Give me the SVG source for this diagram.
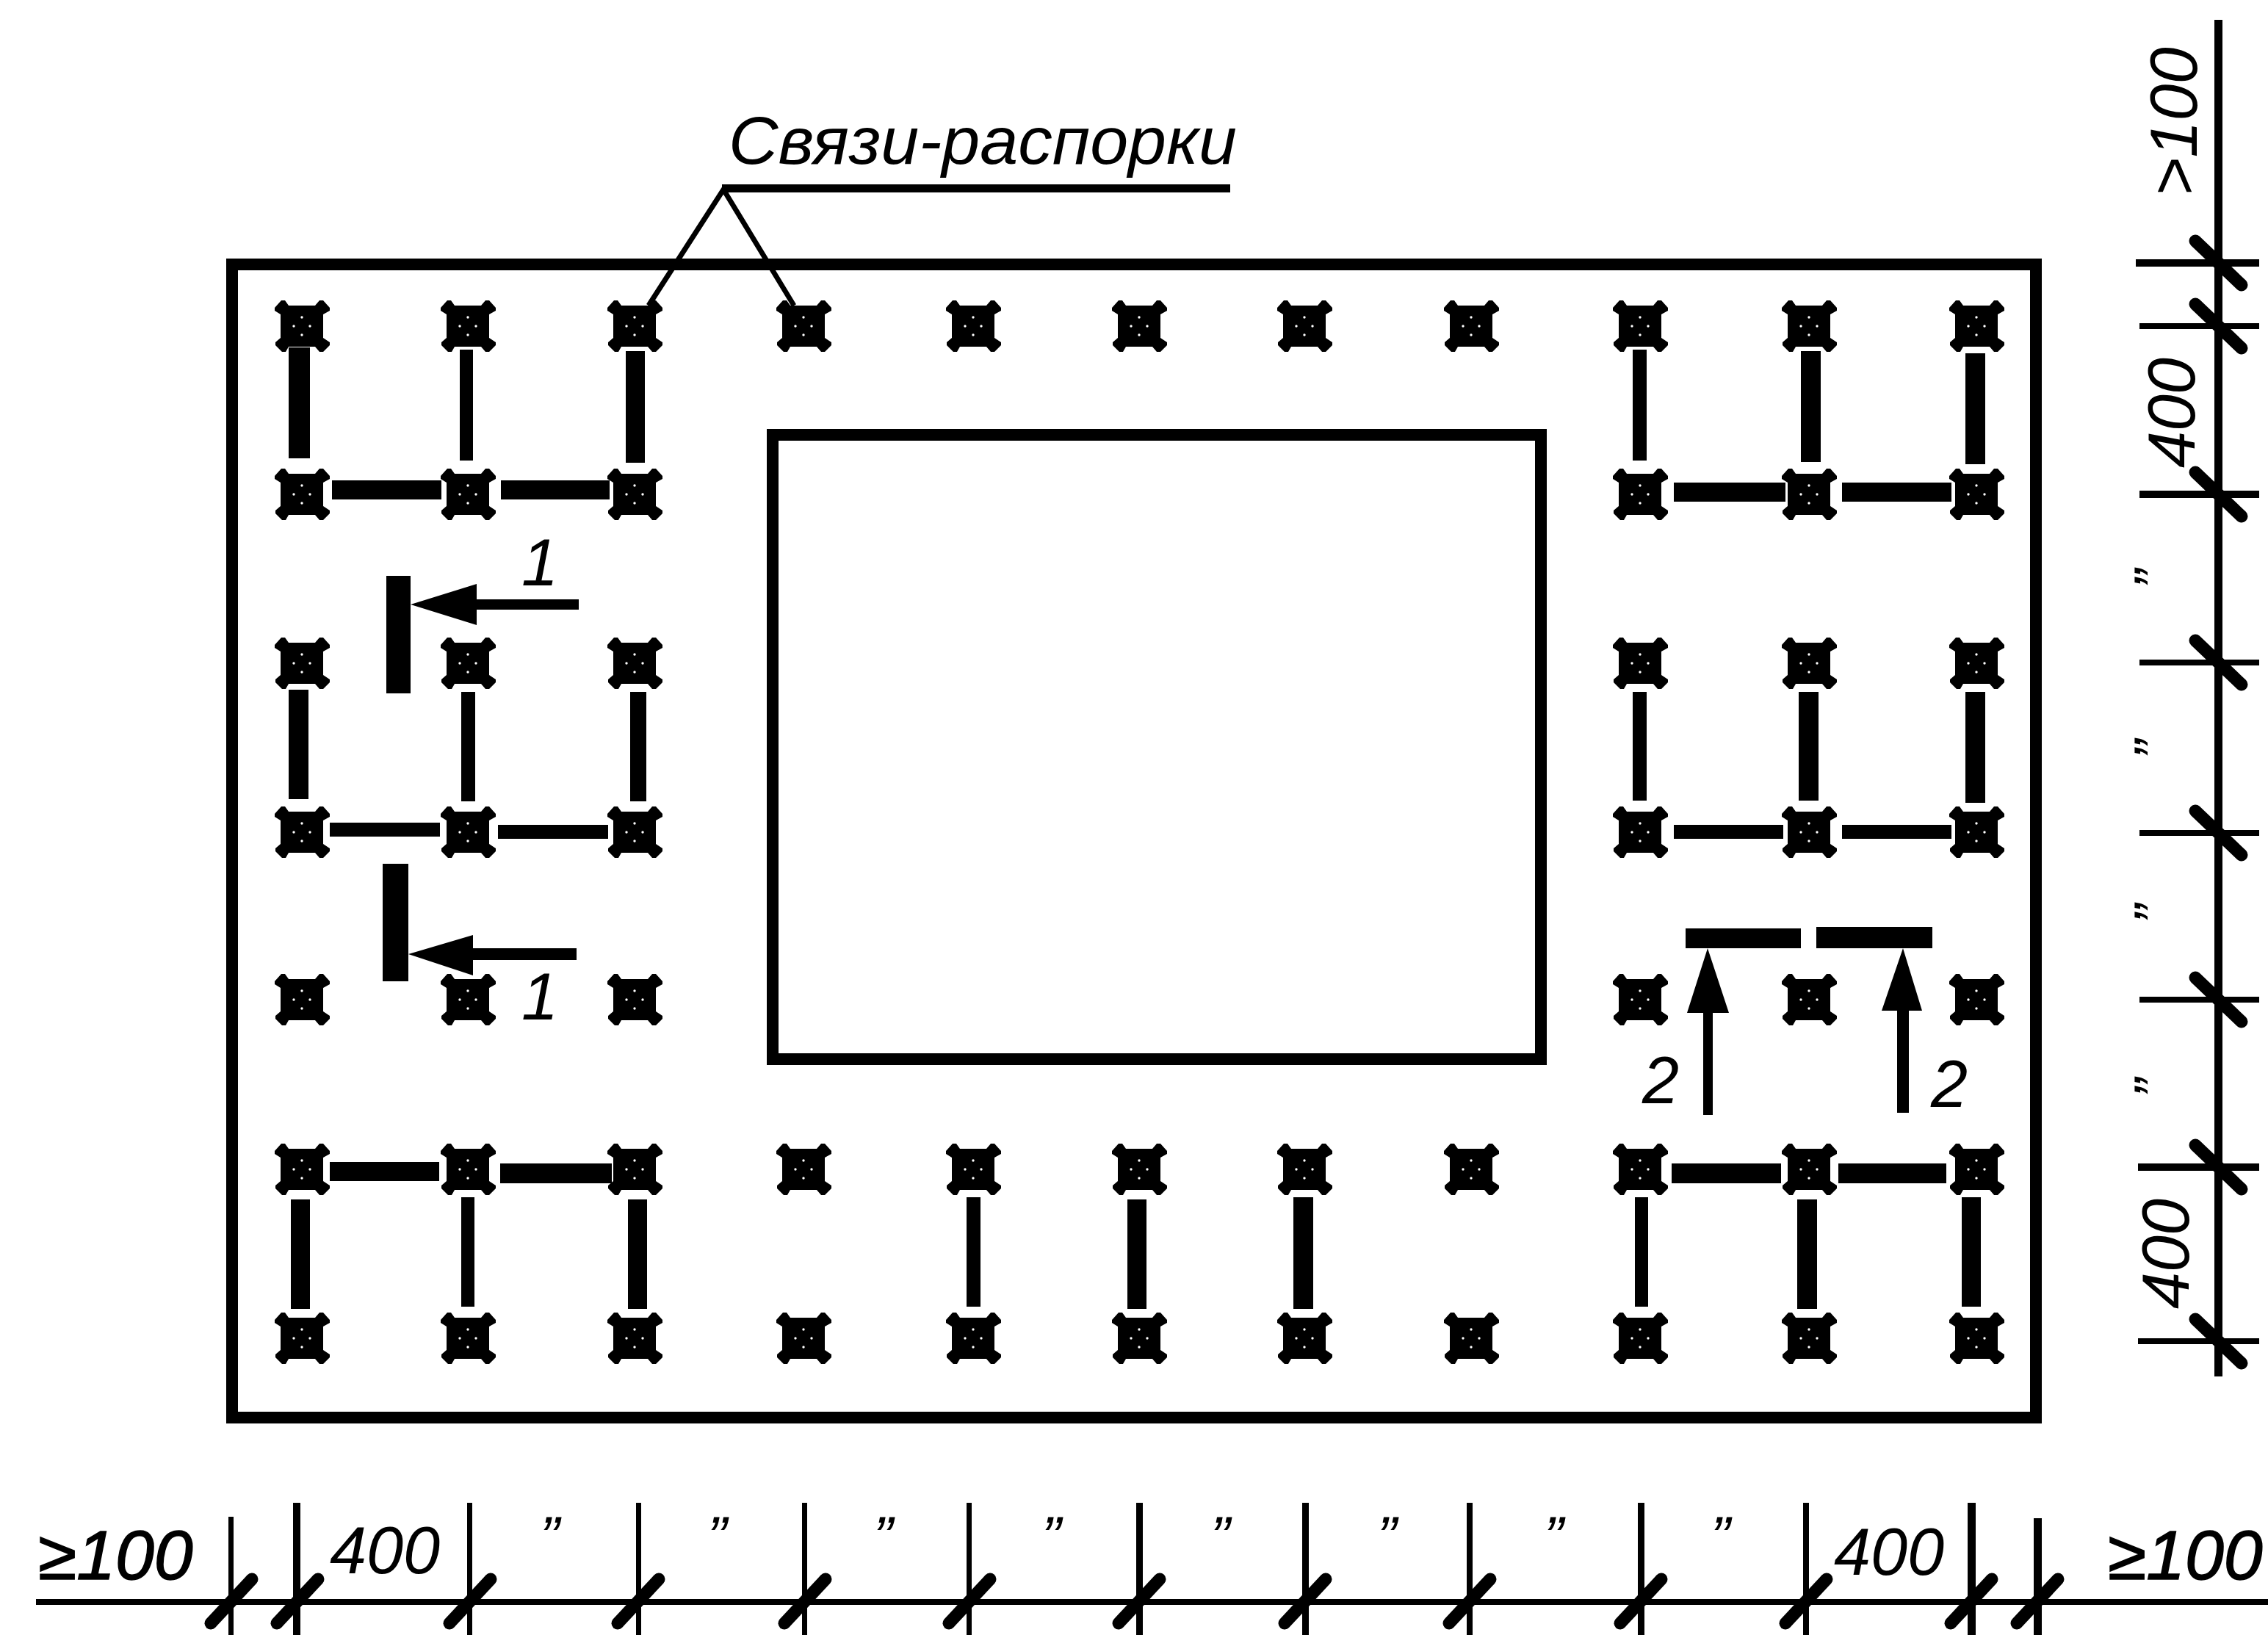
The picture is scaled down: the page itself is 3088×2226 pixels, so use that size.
<svg xmlns="http://www.w3.org/2000/svg" width="3088" height="2226" viewBox="0 0 3088 2226">
<style>
text{font-family:"Liberation Sans",Arial,sans-serif;font-style:italic;font-size:90px;fill:#000}
.frame{fill:none;stroke:#000;stroke-width:16}
.slash{stroke:#000;stroke-width:17;stroke-linecap:round;fill:none}
.heavy{stroke:#000;stroke-width:1.5}
.q{font-size:80px}
</style>
<defs>
<g id="col">
<path d="M-18,-28H18L24,-35H29L38,-25V-21L29,-16V16L38,22V26L29,35H24L18,28H-18L-22,35H-27L-36,26V22L-29,16V-16L-37,-21V-25L-28,-35H-23Z" fill="#000"/>
<circle cx="0" cy="-12" r="1.7" fill="#fff"/><circle cx="-11" cy="0" r="1.7" fill="#fff"/><circle cx="11" cy="0" r="1.7" fill="#fff"/><circle cx="0" cy="12" r="1.7" fill="#fff"/>
</g>
<path id="sr" class="slash" d="M-31,-30L32,30"/>
<path id="sb" class="slash" d="M-28,30L28,-30"/>
</defs>
<rect width="3088" height="2226" fill="#fff"/>
<rect class="frame" x="316" y="360" width="2456" height="1570"/>
<rect class="frame" x="1052" y="592" width="1046" height="850"/>
<g id="connectors">
<path d="M883,416L985,258L1081,416" fill="none" stroke="#000" stroke-width="7"/>
<rect x="983" y="251" width="692" height="11"/>
<rect x="393" y="473" width="29" height="151"/><rect x="626" y="476" width="18" height="151"/><rect x="852" y="478" width="26" height="152"/>
<rect x="452" y="654" width="149" height="26"/><rect x="682" y="654" width="148" height="26"/>
<rect x="393" y="939" width="27" height="149"/><rect x="628" y="942" width="19" height="149"/><rect x="858" y="942" width="22" height="149"/>
<rect x="449" y="1120" width="150" height="19"/><rect x="678" y="1123" width="150" height="19"/>
<rect x="449" y="1582" width="149" height="26"/><rect x="681" y="1584" width="152" height="27"/>
<rect x="396" y="1633" width="26" height="149"/><rect x="628" y="1630" width="18" height="149"/><rect x="855" y="1633" width="26" height="149"/>
<rect x="1316" y="1630" width="19" height="149"/><rect x="1535" y="1633" width="26" height="149"/><rect x="1761" y="1630" width="27" height="152"/>
<rect x="2223" y="476" width="19" height="151"/><rect x="2452" y="478" width="27" height="151"/><rect x="2676" y="481" width="27" height="151"/>
<rect x="2279" y="657" width="152" height="26"/><rect x="2508" y="657" width="149" height="26"/>
<rect x="2223" y="942" width="19" height="148"/><rect x="2449" y="942" width="27" height="148"/><rect x="2676" y="942" width="27" height="151"/>
<rect x="2279" y="1123" width="149" height="19"/><rect x="2508" y="1123" width="149" height="19"/>
<rect x="2276" y="1584" width="149" height="27"/><rect x="2503" y="1584" width="147" height="27"/>
<rect x="2226" y="1630" width="18" height="149"/><rect x="2447" y="1633" width="27" height="149"/><rect x="2671" y="1630" width="26" height="149"/>
</g>
<g id="section-marks">
<rect x="526" y="784" width="33" height="160"/><path d="M559,823L649,795V816H788V830H649V851Z"/>
<rect x="521" y="1176" width="35" height="160"/><path d="M556,1299L644,1273V1291H785V1307H644V1328Z"/>
<rect x="2295" y="1264" width="157" height="27"/><path d="M2325,1291L2354,1379H2332V1518H2319V1379H2297Z"/>
<rect x="2473" y="1262" width="158" height="29"/><path d="M2591,1291L2617,1376H2599V1515H2583V1376H2562Z"/>
</g>
<g id="nodes">
<g id="n1-1"><use href="#col" x="411" y="444"/></g><g id="n1-2"><use href="#col" x="637" y="444"/></g><g id="n1-3"><use href="#col" x="864" y="444"/></g><g id="n1-4"><use href="#col" x="1094" y="444"/></g><g id="n1-5"><use href="#col" x="1325" y="444"/></g><g id="n1-6"><use href="#col" x="1551" y="444"/></g><g id="n1-7"><use href="#col" x="1776" y="444"/></g><g id="n1-8"><use href="#col" x="2003" y="444"/></g><g id="n1-9"><use href="#col" x="2233" y="444"/></g><g id="n1-10"><use href="#col" x="2463" y="444"/></g><g id="n1-11"><use href="#col" x="2691" y="444"/></g>
<g id="n2-1"><use href="#col" x="411" y="673"/></g><g id="n2-2"><use href="#col" x="637" y="673"/></g><g id="n2-3"><use href="#col" x="864" y="673"/></g><g id="n2-9"><use href="#col" x="2233" y="673"/></g><g id="n2-10"><use href="#col" x="2463" y="673"/></g><g id="n2-11"><use href="#col" x="2691" y="673"/></g>
<g id="n3-1"><use href="#col" x="411" y="903"/></g><g id="n3-2"><use href="#col" x="637" y="903"/></g><g id="n3-3"><use href="#col" x="864" y="903"/></g><g id="n3-9"><use href="#col" x="2233" y="903"/></g><g id="n3-10"><use href="#col" x="2463" y="903"/></g><g id="n3-11"><use href="#col" x="2691" y="903"/></g>
<g id="n4-1"><use href="#col" x="411" y="1133"/></g><g id="n4-2"><use href="#col" x="637" y="1133"/></g><g id="n4-3"><use href="#col" x="864" y="1133"/></g><g id="n4-9"><use href="#col" x="2233" y="1133"/></g><g id="n4-10"><use href="#col" x="2463" y="1133"/></g><g id="n4-11"><use href="#col" x="2691" y="1133"/></g>
<g id="n5-1"><use href="#col" x="411" y="1361"/></g><g id="n5-2"><use href="#col" x="637" y="1361"/></g><g id="n5-3"><use href="#col" x="864" y="1361"/></g><g id="n5-9"><use href="#col" x="2233" y="1361"/></g><g id="n5-10"><use href="#col" x="2463" y="1361"/></g><g id="n5-11"><use href="#col" x="2691" y="1361"/></g>
<g id="n6-1"><use href="#col" x="411" y="1592"/></g><g id="n6-2"><use href="#col" x="637" y="1592"/></g><g id="n6-3"><use href="#col" x="864" y="1592"/></g><g id="n6-4"><use href="#col" x="1094" y="1592"/></g><g id="n6-5"><use href="#col" x="1325" y="1592"/></g><g id="n6-6"><use href="#col" x="1551" y="1592"/></g><g id="n6-7"><use href="#col" x="1776" y="1592"/></g><g id="n6-8"><use href="#col" x="2003" y="1592"/></g><g id="n6-9"><use href="#col" x="2233" y="1592"/></g><g id="n6-10"><use href="#col" x="2463" y="1592"/></g><g id="n6-11"><use href="#col" x="2691" y="1592"/></g>
<g id="n7-1"><use href="#col" x="411" y="1822"/></g><g id="n7-2"><use href="#col" x="637" y="1822"/></g><g id="n7-3"><use href="#col" x="864" y="1822"/></g><g id="n7-4"><use href="#col" x="1094" y="1822"/></g><g id="n7-5"><use href="#col" x="1325" y="1822"/></g><g id="n7-6"><use href="#col" x="1551" y="1822"/></g><g id="n7-7"><use href="#col" x="1776" y="1822"/></g><g id="n7-8"><use href="#col" x="2003" y="1822"/></g><g id="n7-9"><use href="#col" x="2233" y="1822"/></g><g id="n7-10"><use href="#col" x="2463" y="1822"/></g><g id="n7-11"><use href="#col" x="2691" y="1822"/></g>
</g>
<g id="dim-right">
<rect x="3015" y="27" width="11" height="1847"/>
<rect x="2908" y="353" width="168" height="10"/><rect x="2913" y="440" width="163" height="8"/><rect x="2913" y="668" width="163" height="10"/><rect x="2913" y="898" width="163" height="8"/><rect x="2913" y="1130" width="163" height="8"/><rect x="2913" y="1357" width="163" height="8"/><rect x="2911" y="1584" width="165" height="10"/><rect x="2911" y="1822" width="165" height="8"/>
<use href="#sr" x="3020" y="358"/><use href="#sr" x="3020" y="444"/><use href="#sr" x="3020" y="673"/><use href="#sr" x="3020" y="902"/><use href="#sr" x="3020" y="1134"/><use href="#sr" x="3020" y="1361"/><use href="#sr" x="3020" y="1589"/><use href="#sr" x="3020" y="1826"/>
</g>
<g id="dim-bottom">
<rect x="49" y="2177" width="3039" height="8"/>
<rect x="311" y="2065" width="7" height="161"/><rect x="399" y="2046" width="10" height="180"/><rect x="636" y="2046" width="7" height="180"/><rect x="866" y="2046" width="7" height="180"/><rect x="1092" y="2046" width="7" height="180"/><rect x="1316" y="2046" width="7" height="180"/><rect x="1547" y="2046" width="9" height="180"/><rect x="1773" y="2046" width="9" height="180"/><rect x="1997" y="2046" width="8" height="180"/><rect x="2230" y="2046" width="9" height="180"/><rect x="2455" y="2046" width="8" height="180"/><rect x="2679" y="2046" width="11" height="180"/><rect x="2769" y="2067" width="11" height="159"/>
<use href="#sb" x="315" y="2180"/><use href="#sb" x="405" y="2180"/><use href="#sb" x="640" y="2180"/><use href="#sb" x="869" y="2180"/><use href="#sb" x="1096" y="2180"/><use href="#sb" x="1320" y="2180"/><use href="#sb" x="1551" y="2180"/><use href="#sb" x="1777" y="2180"/><use href="#sb" x="2001" y="2180"/><use href="#sb" x="2234" y="2180"/><use href="#sb" x="2459" y="2180"/><use href="#sb" x="2684" y="2180"/><use href="#sb" x="2774" y="2180"/>
</g>
<g id="labels">
<text x="992" y="223" textLength="692" lengthAdjust="spacingAndGlyphs">Связи-распорки</text>
<text x="710" y="797">1</text><text x="710" y="1388">1</text>
<text x="2236" y="1502">2</text><text x="2629" y="1507">2</text>
<text class="heavy" x="52" y="2150" style="font-size:95px">≥100</text>
<text x="449" y="2142">400</text>
<text x="2497" y="2144">400</text>
<text class="heavy" x="2870" y="2150" style="font-size:95px">≥100</text>
<text class="q" x="735" y="2120">”</text><text class="q" x="963" y="2120">”</text><text class="q" x="1189" y="2120">”</text><text class="q" x="1418" y="2120">”</text><text class="q" x="1648" y="2120">”</text><text class="q" x="1875" y="2120">”</text><text class="q" x="2102" y="2120">”</text><text class="q" x="2329" y="2120">”</text>
<text transform="rotate(-90 2991 267)" x="2991" y="267">&gt;100</text>
<text transform="rotate(-90 2988 637)" x="2988" y="637">400</text>
<text transform="rotate(-90 2980 1782)" x="2980" y="1782">400</text>
<text class="q" transform="rotate(-90 2961 802)" x="2961" y="802">”</text>
<text class="q" transform="rotate(-90 2961 1034)" x="2961" y="1034">”</text>
<text class="q" transform="rotate(-90 2961 1258)" x="2961" y="1258">”</text>
<text class="q" transform="rotate(-90 2961 1495)" x="2961" y="1495">”</text>
</g>
</svg>
